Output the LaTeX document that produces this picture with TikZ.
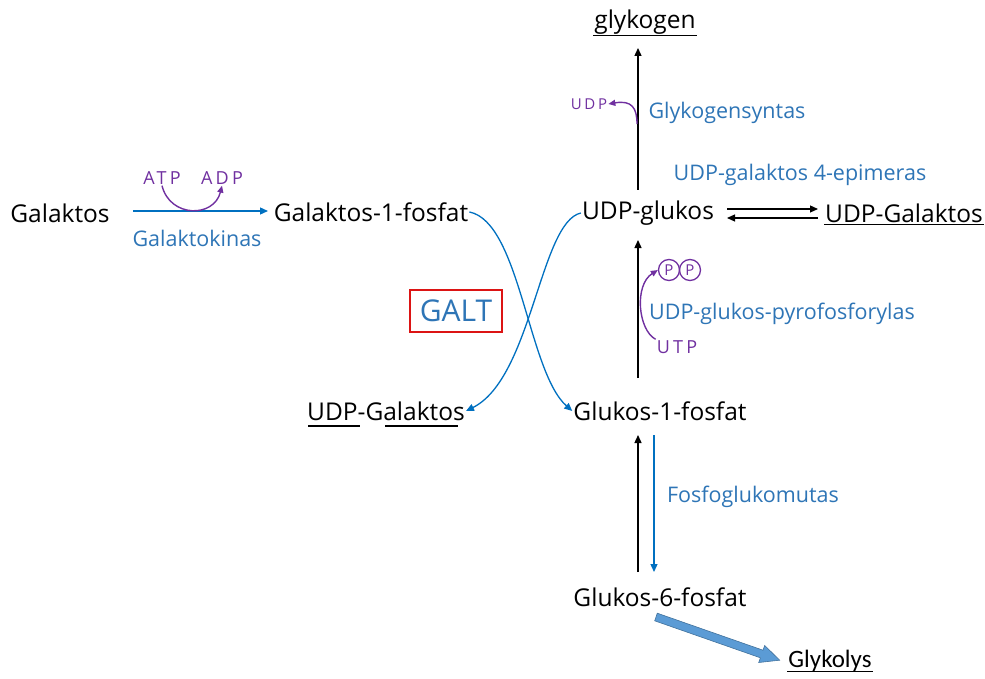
\documentclass[tikz,border=0pt]{standalone}
\usepackage{fontspec}
\setmainfont{Open Sans}
\newfontfamily\calib{Carlito}
\newfontfamily\cofont[LetterSpace=18]{Open Sans}
\usetikzlibrary{arrows.meta,calc}
\definecolor{tblue}{RGB}{46,117,182}
\definecolor{ablue}{RGB}{0,112,192}
\definecolor{purp}{RGB}{112,48,160}
\definecolor{gred}{RGB}{220,20,20}
\definecolor{fillb}{RGB}{91,155,213}
\definecolor{edgeb}{RGB}{65,113,156}
\begin{document}
\begin{tikzpicture}[x=1pt,y=-1pt,
  met/.style={font=\fontsize{24.5}{27}\selectfont, text=black, inner sep=1pt},
  enz/.style={font=\fontsize{21.5}{24}\selectfont, text=tblue, inner sep=1pt},
  cof/.style={font=\cofont\fontsize{18}{20}\selectfont, text=purp, inner sep=1pt},
  blk/.style={draw=black, line width=1.4pt, -{Triangle[length=8pt,width=7pt]}},
  bar/.style={draw=ablue, line width=1.3pt, -{Triangle[length=8pt,width=7pt]}},
  pur/.style={draw=purp, line width=1.4pt, -{Triangle[length=7pt,width=6pt]}},
  pcirc/.style={draw=purp, line width=1.3pt, circle, minimum size=21pt, inner sep=0pt, text=purp, font=\fontsize{15}{16}\selectfont},
  uline/.style={draw=black, line width=1.1pt}]
\useasboundingbox (0,0) rectangle (985,679);

% metabolites
\node[met] (gal) at (60,213) {Galaktos};
\node[met] (g1p) at (371,212) {Galaktos-1-fosfat};
\node[met] (udpg) at (648,213) {UDP-glukos};
\node[met] (udpgalR) at (904,213) {UDP-Galaktos};
\node[met] (glyk) at (645,22) {glykogen};
\node[met] (udpgalL) at (386,411) {UDP-Galaktos};
\node[met] (glu1p) at (660,411) {Glukos-1-fosfat};
\node[met] (glu6p) at (660,597) {Glukos-6-fosfat};
\node[font=\calib\fontsize{25}{27}\selectfont, inner sep=1pt] (glys) at (830,661) {Glykolys};

% underlines
\draw[uline] (glyk.south west) -- (glyk.south east);
\draw[uline] ([yshift=-1pt]udpgalR.south west) -- ([yshift=-1pt]udpgalR.south east);
\draw[uline] ([yshift=1pt]glys.south west) -- ([yshift=1pt]glys.south east);
\coordinate (ul1) at (308,426); \coordinate (ul2) at (360,426);
\coordinate (ul3) at (385,426); \coordinate (ul4) at (458,426);
\draw[uline] (ul1) -- (ul2);
\draw[uline] (ul3) -- (ul4);

% enzymes
\node[enz] (gk) at (197,238) {Galaktokinas};
\node[enz] (gs) at (727,113) {Glykogensyntas};
\node[enz] (epi) at (800,175) {UDP-galaktos 4-epimeras};
\node[enz] (ugp) at (782,314) {UDP-glukos-pyrofosforylas};
\node[enz] (pgm) at (753,497) {Fosfoglukomutas};

% GALT
\node[draw=gred, line width=1.8pt, minimum width=92pt, minimum height=42pt,
      text=tblue, font=\fontsize{30}{32}\selectfont] (galt) at (456,311) {GALT};

% cofactors
\node[cof] (atp) at (162,178) {ATP};
\node[cof] (adp) at (222,178) {ADP};
\node[cof, font=\cofont\fontsize{15}{17}\selectfont] (udp) at (589,104) {UDP};
\node[cof] (utp) at (677,347) {UTP};
\node[pcirc] (p1) at (669,270) {P};
\node[pcirc] (p2) at (690,270) {P};

% galaktokinas step
\coordinate (gkS) at (133,211); \coordinate (gkE) at (268,211);
\draw[bar] (gkS) -- (gkE);
\draw[pur] (atp.south) .. controls (170,218) and (214,218) .. (adp.south);

% GALT crossing curves
\draw[bar] (g1p.east) .. controls (520,222) and (528,372) .. (glu1p.west);
\draw[bar] (udpg.west) .. controls (540,222) and (532,378) .. (udpgalL.east);

% epimerase
\coordinate (e1) at (727,209); \coordinate (e2) at (818,209);
\coordinate (e3) at (818,218); \coordinate (e4) at (727,218);
\draw[blk, line width=1.2pt] (e1) -- (e2);
\draw[blk, line width=1.2pt] (e3) -- (e4);

% glycogen synthase
\coordinate (gsS) at (638,190); \coordinate (gsE) at (638,48);
\draw[blk] (gsS) -- (gsE);
\coordinate (gsU) at (637,124);
\draw[pur] (gsU) .. controls (637,108) and (632,100) .. (udp.east);

% UGP
\coordinate (ugS) at (638,378); \coordinate (ugE) at (638,240);
\draw[blk] (ugS) -- (ugE);
\draw[pur] (utp.north west) .. controls (638,330) and (634,285) .. (p1.west);

% PGM
\coordinate (m1) at (638,572); \coordinate (m2) at (638,435);
\coordinate (m3) at (654,435); \coordinate (m4) at (654,572);
\draw[blk] (m1) -- (m2);
\draw[bar] (m3) -- (m4);

% to glycolysis (block arrow)
\draw[draw=edgeb, fill=fillb, line width=0.6pt]
  (657.3,613.2) -- (763.0,650.2) -- (764.7,645.5) -- (779.7,660.2)
  -- (758.7,662.5) -- (760.4,657.8) -- (654.7,620.8) -- cycle;
\end{tikzpicture}
\end{document}
